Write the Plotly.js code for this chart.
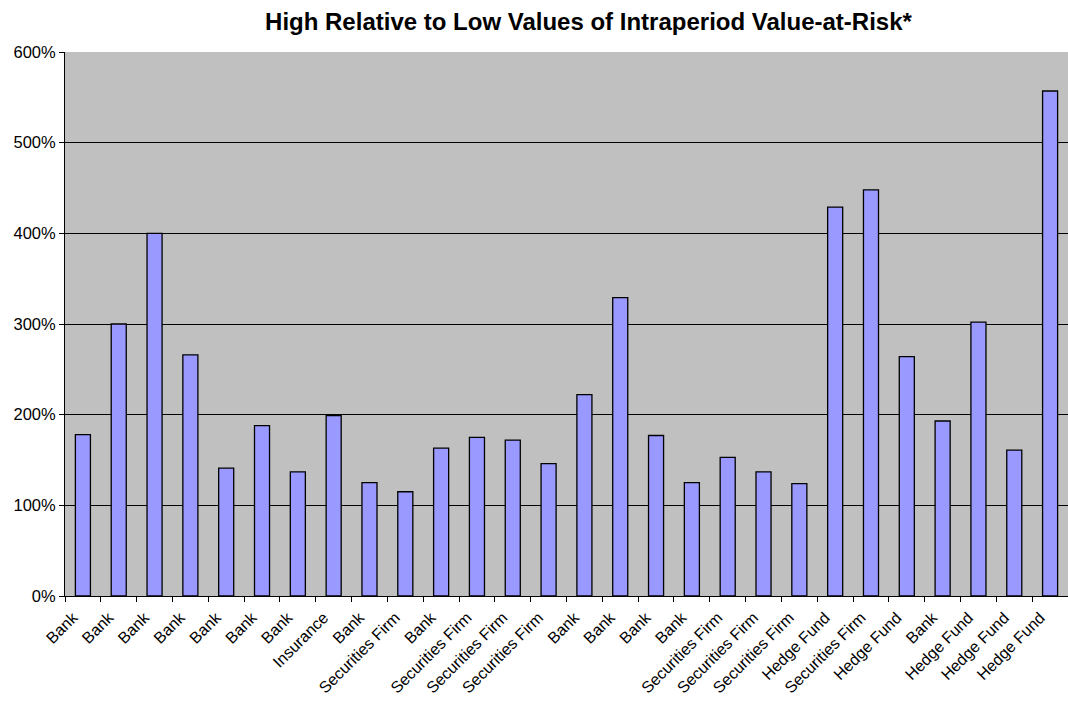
<!DOCTYPE html>
<html>
<head>
<meta charset="utf-8">
<script src="https://cdn.plot.ly/plotly-3.0.1.min.js"></script>
<style>
  html, body { margin: 0; padding: 0; background: #fff; }
  #chart { width: 1068px; height: 702px; }
</style>
</head>
<body>
<div id="chart"></div>
<script>
// Institution types (category labels, in order)
const categories = [
  "Bank", "Bank", "Bank", "Bank", "Bank", "Bank", "Bank", "Insurance",
  "Bank", "Securities Firm", "Bank", "Securities Firm", "Securities Firm",
  "Securities Firm", "Bank", "Bank", "Bank", "Bank", "Securities Firm",
  "Securities Firm", "Securities Firm", "Hedge Fund", "Securities Firm",
  "Hedge Fund", "Bank", "Hedge Fund", "Hedge Fund", "Hedge Fund"
];
// High relative to low intraperiod VaR, in percent
const highToLow = [
  178, 300, 400, 266, 141, 188, 137, 199,
  125, 115, 163, 175, 172,
  146, 222, 329, 177, 125, 153,
  137, 124, 429, 448,
  264, 193, 302, 161, 557
];
const yTicks = [0, 100, 200, 300, 400, 500, 600];
const yTickLabels = ["0%", "100%", "200%", "300%", "400%", "500%", "600%"];

const positions = categories.map((_, i) => i);
const boundaries = categories.map((_, i) => i - 0.5).concat([categories.length - 0.5]);

const trace = {
  type: "bar",
  x: positions,
  y: highToLow,
  marker: { color: "#9999FF", line: { color: "#000000", width: 1.3 } },
  hoverinfo: "skip"
};

const font = "Arial, 'Liberation Sans', sans-serif";

const layout = {
  width: 1068,
  height: 702,
  margin: { l: 65, r: 0, t: 52, b: 106, pad: 0 },
  paper_bgcolor: "#FFFFFF",
  plot_bgcolor: "#C0C0C0",
  showlegend: false,
  bargap: 0.58,
  font: { family: font, color: "#000000", size: 16 },
  title: {
    text: "<b>High Relative to Low Values of Intraperiod Value-at-Risk*</b>",
    font: { family: font, size: 24, color: "#000000" },
    xref: "container", x: 0.551, xanchor: "center",
    yref: "container", y: 0.969, yanchor: "middle"
  },
  xaxis: {
    range: [-0.5, categories.length - 0.5],
    tickmode: "array",
    tickvals: positions,
    ticktext: categories,
    tickangle: -45,
    ticks: "",
    ticklabelstandoff: 5,
    ticklabelshift: -10,
    showgrid: false,
    zeroline: false,
    showline: true,
    linecolor: "#000000",
    linewidth: 1,
    tickfont: { family: font, size: 16, color: "#000000" },
    minor: {
      tickmode: "array",
      tickvals: boundaries,
      ticks: "outside",
      ticklen: 5,
      tickwidth: 1,
      tickcolor: "#000000",
      showgrid: false
    },
    fixedrange: true
  },
  yaxis: {
    range: [0, 600],
    tickmode: "array",
    tickvals: yTicks,
    ticktext: yTickLabels,
    ticks: "outside",
    ticklen: 5,
    tickcolor: "#000000",
    showline: true,
    linecolor: "#000000",
    linewidth: 1,
    showgrid: true,
    gridcolor: "#000000",
    gridwidth: 1,
    zeroline: false,
    tickfont: { family: font, size: 16.5, color: "#000000" },
    fixedrange: true
  }
};

Plotly.newPlot("chart", [trace], layout, { displayModeBar: false, staticPlot: true });
</script>
</body>
</html>
